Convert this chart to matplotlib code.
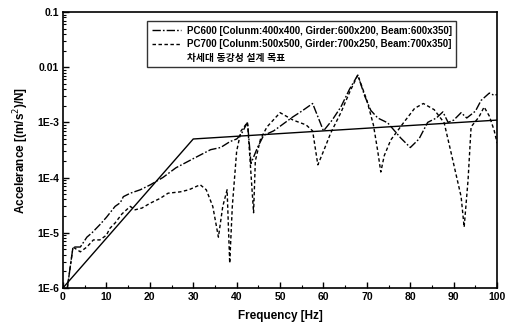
import matplotlib
matplotlib.use("Agg")
import matplotlib.pyplot as plt
from matplotlib.lines import Line2D
from matplotlib.ticker import FixedLocator, LogLocator, NullFormatter, MultipleLocator

plt.rcParams['font.family'] = ['Liberation Sans', 'Noto Sans CJK KR', 'DejaVu Sans']

# Design target
target_f = [0, 30, 100]
target_a = [1e-6, 5e-4, 1.1e-3]

# PC600 (dash-dot)
pc600_f = [1, 2.3, 4, 5.5, 6.7, 8.5, 10, 12, 13.2, 13.9, 15.5, 17.8, 20, 23, 26, 30, 34, 36.3,
           38.5, 40, 41, 42.5, 43.3, 44.8, 46.2, 48.5, 50, 52.9, 55, 57.5, 60, 62, 64, 66, 67.9,
           69.5, 70.9, 72.5, 74.8, 77.8, 80, 82, 84, 86, 87.5, 88.7, 90, 91.7, 93, 95, 96.3,
           98.2, 99.3, 100]
pc600_a = [1e-6, 5.5e-6, 5.5e-6, 8.3e-6, 1e-5, 1.4e-5, 1.9e-5, 3e-5, 3.5e-5, 4.5e-5, 5.2e-5,
           6e-5, 7.3e-5, 1e-4, 1.5e-4, 2.2e-4, 3.2e-4, 3.5e-4, 4.5e-4, 5e-4, 6e-4, 1e-3, 1.8e-4,
           3.5e-4, 5.8e-4, 7e-4, 8.5e-4, 1.25e-3, 1.6e-3, 2.2e-3, 7e-4, 1.1e-3, 1.9e-3, 4e-3,
           7.2e-3, 3e-3, 1.65e-3, 1.2e-3, 9.8e-4, 5.2e-4, 3.5e-4, 5e-4, 1e-3, 1.2e-3, 1.55e-3,
           1e-3, 1.1e-3, 1.5e-3, 1.2e-3, 1.6e-3, 2.5e-3, 3.4e-3, 3.1e-3, 3.2e-3]

# PC700 (dashed)
pc700_f = [1, 2.3, 4, 5.5, 7, 8.5, 10, 10.8, 12, 13.6, 15.5, 16.6, 18.2, 20, 22.4, 24.2, 27, 29,
           31.6, 33, 34.5, 35.8, 36.8, 37.8, 38.4, 39, 40, 41, 42.5, 43.9, 44.3, 45.5, 47, 50, 53,
           56, 57.5, 58.7, 60, 61.7, 64, 66, 67.9, 70, 71.5, 72.5, 73.2, 74, 75.5, 78.5, 81, 83,
           85.5, 87.8, 89.4, 91.7, 92.4, 93.3, 94, 95.8, 97, 98.2, 99.3, 100]
pc700_a = [1e-6, 5.5e-6, 4.5e-6, 5.5e-6, 7.4e-6, 7.4e-6, 9e-6, 1.2e-5, 1.5e-5, 2.2e-5, 3e-5,
           2.6e-5, 2.8e-5, 3.4e-5, 4.2e-5, 5.2e-5, 5.5e-5, 6e-5, 7.4e-5, 6e-5, 3e-5, 8.3e-6, 3e-5,
           6e-5, 2.8e-6, 3e-5, 3e-4, 7e-4, 1e-3, 2.3e-5, 2e-4, 5e-4, 8.3e-4, 1.5e-3, 1.1e-3, 9e-4,
           7e-4, 1.7e-4, 3e-4, 6.5e-4, 1.5e-3, 3.5e-3, 7.2e-3, 2.5e-3, 9e-4, 3e-4, 1.26e-4, 2.5e-4,
           4.8e-4, 1e-3, 1.8e-3, 2.2e-3, 1.7e-3, 9.8e-4, 2.8e-4, 4.5e-5, 1.26e-5, 9e-5, 8.3e-4,
           1.25e-3, 1.9e-3, 1.3e-3, 7.2e-4, 4.2e-4]

labels = ["PC600 [Colunm:400x400, Girder:600x200, Beam:600x350]",
          "PC700 [Colunm:500x500, Girder:700x250, Beam:700x350]",
          "차세대 동강성 설계 목표"]
yticks = [1e-6, 1e-5, 1e-4, 1e-3, 1e-2, 1e-1]
ytick_labels = ["1E-6", "1E-5", "1E-4", "1E-3", "0.01", "0.1"]
xticks = list(range(0, 101, 10))

fig = plt.figure(figsize=(5.06, 3.26), dpi=100)
ax = fig.add_axes([0.1245, 0.117, 0.858, 0.846])

ax.plot(target_f, target_a, color='black', lw=1.0, solid_capstyle='butt')
ax.plot(pc600_f, pc600_a, color='black', lw=1.0, dashes=[6, 1.5, 1.2, 1.5])
ax.plot(pc700_f, pc700_a, color='black', lw=1.0, dashes=[2.5, 1.8])

ax.set_yscale('log')
ax.set_xlim(0, 100)
ax.set_ylim(1e-6, 0.1)
ax.yaxis.set_major_locator(FixedLocator(yticks))
ax.set_yticklabels(ytick_labels)
ax.yaxis.set_minor_locator(LogLocator(base=10, subs=range(2, 10)))
ax.yaxis.set_minor_formatter(NullFormatter())
ax.set_xticks(xticks)
ax.xaxis.set_minor_locator(MultipleLocator(5))

ax.tick_params(which='major', direction='in', length=4, width=1, labelsize=7.5,
               top=False, right=False, pad=3)
ax.tick_params(which='minor', direction='in', length=2, width=0.8, top=False, right=False)
for lab in ax.get_xticklabels() + ax.get_yticklabels():
    lab.set_fontweight('bold')
for sp in ax.spines.values():
    sp.set_linewidth(1.2)

ax.set_xlabel("Frequency [Hz]", fontsize=8.5, fontweight='bold', labelpad=6)
ax.set_ylabel("Accelerance [(m/s$^2$)/N]", fontsize=8.5, fontweight='bold', labelpad=4)

handles = [Line2D([], [], color='black', lw=1.0, dashes=[6, 1.5, 1.2, 1.5]),
           Line2D([], [], color='black', lw=1.0, dashes=[2.5, 1.8])]
leg = ax.legend(handles + [Line2D([], [], linestyle='none')], labels, loc='upper left',
                bbox_to_anchor=(0.194, 0.966),
                fontsize=7, frameon=True, fancybox=False, edgecolor='black',
                handlelength=3.0, handletextpad=0.6, borderpad=0.45, labelspacing=0.35,
                borderaxespad=0)
leg.get_frame().set_linewidth(1.0)
for t in leg.get_texts():
    t.set_fontweight('bold')

fig.savefig("out.png", dpi=100)
